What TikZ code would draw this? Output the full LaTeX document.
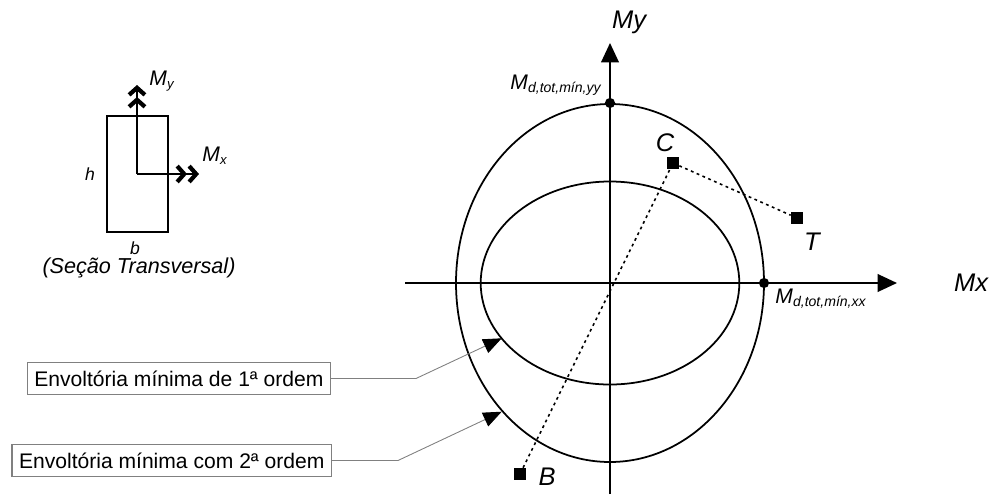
\documentclass[tikz,border=0pt]{standalone}
\usepackage{fontspec}
\setmainfont{Liberation Sans}
\usetikzlibrary{arrows.meta}

\begin{document}
\begin{tikzpicture}[
  x=0.02cm, y=-0.02cm,
  axis/.style={line width=1.1pt, -{Triangle[length=11pt,width=10pt]}},
  env/.style={line width=1pt},
  moment/.style={line width=1.1pt,
    -{Straight Barb[length=4pt,width=9pt,line width=2.4pt] Straight Barb[length=4pt,width=9pt,line width=2.4pt]}},
  legend/.style={draw=black!50, line width=0.6pt, inner xsep=4pt, minimum height=18.7pt,
                 font=\fontsize{12}{14}\selectfont},
  leader/.style={draw=black!50, line width=0.5pt, -{Triangle[length=10.5pt,width=8.5pt,color=black]}},
  pt/.style={rectangle, fill=black, inner sep=0pt, minimum size=6.8pt},
  dot/.style={circle, fill=black, inner sep=0pt, minimum size=5.8pt},
  trace/.style={line width=0.9pt, dash pattern=on 1.6pt off 2pt},
  lbl/.style={inner sep=0pt, font=\fontsize{14.5}{16}\selectfont\itshape},
  sublbl/.style={inner sep=0pt, font=\fontsize{12}{13}\selectfont\itshape},
  small/.style={inner sep=0pt, font=\fontsize{10}{11}\selectfont\itshape}
]
  \useasboundingbox (0,0) rectangle (993,494);

  % diagrama de interacao
  \coordinate (O) at (610,283);
  \coordinate (xl) at (405,283);
  \coordinate (xr) at (897,283);
  \coordinate (yb) at (610,494);
  \coordinate (yt) at (610,43);
  \draw[axis] (xl) -- (xr);
  \draw[axis] (yb) -- (yt);
  \node[lbl] (Mx) at (971,283) {Mx};
  \node[lbl] (My) at (629,22) {My};

  \draw[env] (O) ellipse [x radius=129.3, y radius=101.5];
  \draw[env] (O) ellipse [x radius=154, y radius=179];

  \node[dot] (Pyy) at (610,103) {};
  \node[dot] (Pxx) at (764,283) {};
  \node[sublbl] (Lyy) at (556,85) {M\textsubscript{\fontsize{8}{9}\selectfont d,tot,mín,yy}};
  \node[sublbl] (Lxx) at (821,299) {M\textsubscript{\fontsize{8}{9}\selectfont d,tot,mín,xx}};

  \node[pt] (C) at (673,163) {};
  \node[pt] (T) at (797,218) {};
  \node[pt] (B) at (520,474) {};
  \draw[trace] (B) -- (C) -- (T);
  \node[lbl] (lC) at (665,143) {C};
  \node[lbl] (lT) at (812,242) {T};
  \node[lbl] (lB) at (547,477) {B};

  % secao transversal
  \draw[line width=1pt] (106.7,115.7) rectangle (167.7,232.3);
  \coordinate (S) at (137,174);
  \coordinate (Sy) at (137,85);
  \coordinate (Sx) at (199,174);
  \draw[moment] (S) -- (Sy);
  \draw[moment] (S) -- (Sx);
  \node[sublbl] (LMy) at (162,81) {M\textsubscript{\fontsize{7.5}{8}\selectfont y}};
  \node[sublbl] (LMx) at (215,156) {M\textsubscript{\fontsize{7.5}{8}\selectfont x}};
  \node[small] (h) at (90,174) {h};
  \node[small] (b) at (135,248) {b};
  \node[sublbl, font=\fontsize{12.3}{14}\selectfont\itshape] (cap) at (139,268) {(Seção Transversal)};

  % legendas
  \node[legend, anchor=east] (env1) at (331,378.5) {Envoltória mínima de 1ª ordem};
  \node[legend, anchor=east] (env2) at (332,460.5) {Envoltória mínima com 2ª ordem};
  \coordinate (k1) at (416,378.5);
  \coordinate (t1) at (501.7,338.3);
  \coordinate (k2) at (398,460.5);
  \coordinate (t2) at (501.7,411.7);
  \draw[leader] (env1.east) -- (k1) -- (t1);
  \draw[leader] (env2.east) -- (k2) -- (t2);
\end{tikzpicture}
\end{document}
